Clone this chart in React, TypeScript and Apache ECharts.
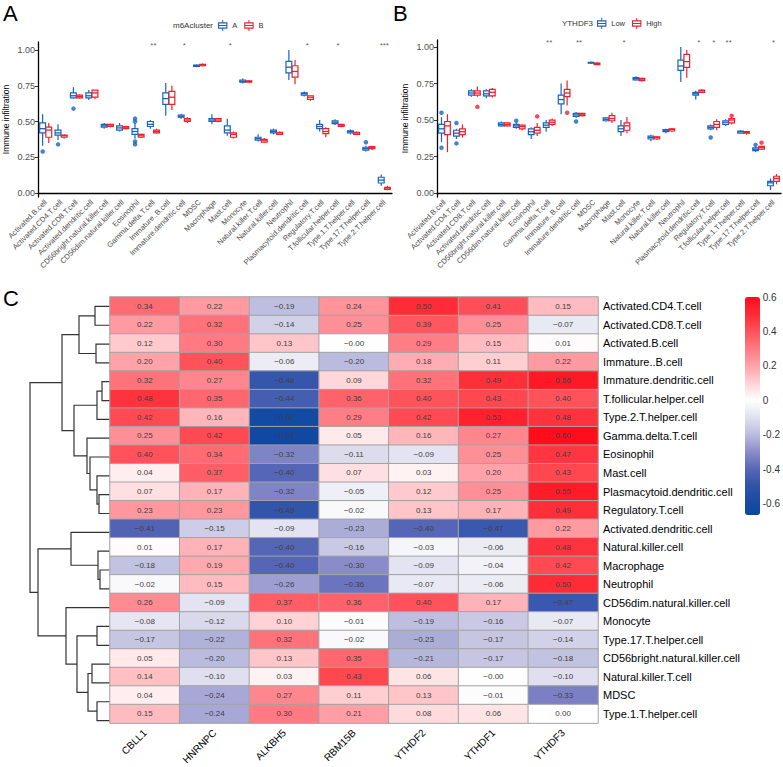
import React, { useEffect, useRef } from 'react';
import * as echarts from 'echarts';

// ---------- Panel A / B data ----------
const cellTypes = [
  'Activated.B.cell', 'Activated.CD4.T.cell', 'Activated.CD8.T.cell', 'Activated.dendritic.cell',
  'CD56bright.natural.killer.cell', 'CD56dim.natural.killer.cell', 'Eosinophil', 'Gamma.delta.T.cell',
  'Immature..B.cell', 'Immature.dendritic.cell', 'MDSC', 'Macrophage', 'Mast.cell', 'Monocyte',
  'Natural.killer.T.cell', 'Natural.killer.cell', 'Neutrophil', 'Plasmacytoid.dendritic.cell',
  'Regulatory.T.cell', 'T.follicular.helper.cell', 'Type.1.T.helper.cell', 'Type.17.T.helper.cell',
  'Type.2.T.helper.cell',
];

// [min, q1, median, q3, max]
const boxA_clusterA = [
  [0.33, 0.42, 0.45, 0.49, 0.55], [0.37, 0.405, 0.42, 0.44, 0.48], [0.66, 0.665, 0.68, 0.70, 0.74],
  [0.65, 0.665, 0.68, 0.70, 0.72], [0.45, 0.46, 0.47, 0.48, 0.49], [0.43, 0.44, 0.455, 0.47, 0.49],
  [0.38, 0.41, 0.43, 0.45, 0.49], [0.45, 0.465, 0.48, 0.50, 0.51], [0.54, 0.62, 0.66, 0.70, 0.77],
  [0.52, 0.53, 0.535, 0.545, 0.555], [0.88, 0.885, 0.89, 0.895, 0.90], [0.48, 0.50, 0.51, 0.52, 0.55],
  [0.40, 0.42, 0.44, 0.47, 0.52], [0.765, 0.775, 0.78, 0.79, 0.80], [0.36, 0.37, 0.38, 0.39, 0.41],
  [0.41, 0.42, 0.43, 0.44, 0.45], [0.79, 0.84, 0.88, 0.92, 1.0], [0.675, 0.685, 0.695, 0.70, 0.71],
  [0.43, 0.45, 0.465, 0.48, 0.51], [0.475, 0.485, 0.495, 0.505, 0.515], [0.41, 0.42, 0.43, 0.435, 0.445],
  [0.29, 0.30, 0.31, 0.32, 0.33], [0.05, 0.07, 0.09, 0.11, 0.13],
];
const boxA_clusterB = [
  [0.35, 0.39, 0.44, 0.46, 0.49], [0.38, 0.39, 0.40, 0.405, 0.41], [0.66, 0.665, 0.675, 0.685, 0.69],
  [0.655, 0.67, 0.70, 0.72, 0.72], [0.46, 0.465, 0.475, 0.48, 0.485], [0.445, 0.45, 0.46, 0.465, 0.47],
  [0.385, 0.39, 0.40, 0.41, 0.415], [0.415, 0.42, 0.43, 0.44, 0.45], [0.58, 0.62, 0.67, 0.71, 0.75],
  [0.49, 0.50, 0.51, 0.52, 0.53], [0.885, 0.89, 0.895, 0.90, 0.905], [0.495, 0.50, 0.51, 0.52, 0.525],
  [0.38, 0.39, 0.41, 0.42, 0.43], [0.77, 0.775, 0.78, 0.785, 0.79], [0.35, 0.355, 0.365, 0.375, 0.385],
  [0.41, 0.41, 0.42, 0.425, 0.43], [0.76, 0.81, 0.85, 0.89, 0.93], [0.645, 0.655, 0.67, 0.68, 0.685],
  [0.39, 0.415, 0.43, 0.45, 0.46], [0.46, 0.465, 0.47, 0.48, 0.485], [0.41, 0.41, 0.42, 0.425, 0.43],
  [0.30, 0.31, 0.32, 0.325, 0.33], [0.02, 0.025, 0.035, 0.04, 0.05],
];
const outA_clusterA = [[0, 0.29], [1, 0.34], [2, 0.59], [6, 0.52], [6, 0.50], [6, 0.36], [6, 0.34], [21, 0.355]];
const outA_clusterB: number[][] = [];
const starsA = ['', '', '', '', '', '', '', '**', '', '*', '', '', '*', '', '', '', '', '*', '', '*', '', '', '***'];

const boxB_low = [
  [0.35, 0.41, 0.44, 0.47, 0.52], [0.37, 0.39, 0.41, 0.43, 0.44], [0.66, 0.67, 0.685, 0.70, 0.71],
  [0.65, 0.665, 0.68, 0.70, 0.71], [0.455, 0.46, 0.47, 0.48, 0.49], [0.44, 0.45, 0.46, 0.47, 0.48],
  [0.37, 0.40, 0.42, 0.44, 0.45], [0.42, 0.45, 0.465, 0.48, 0.50], [0.54, 0.61, 0.64, 0.67, 0.75],
  [0.515, 0.525, 0.535, 0.545, 0.555], [0.885, 0.89, 0.893, 0.895, 0.90], [0.49, 0.495, 0.505, 0.515, 0.52],
  [0.39, 0.42, 0.44, 0.46, 0.50], [0.77, 0.775, 0.785, 0.79, 0.80], [0.355, 0.37, 0.38, 0.39, 0.40],
  [0.41, 0.42, 0.43, 0.435, 0.44], [0.76, 0.84, 0.87, 0.91, 1.0], [0.64, 0.67, 0.68, 0.69, 0.70],
  [0.43, 0.44, 0.45, 0.46, 0.47], [0.46, 0.47, 0.485, 0.495, 0.505], [0.41, 0.41, 0.42, 0.425, 0.43],
  [0.28, 0.29, 0.30, 0.31, 0.32], [0.02, 0.05, 0.07, 0.08, 0.10],
];
const boxB_high = [
  [0.28, 0.40, 0.46, 0.49, 0.54], [0.38, 0.40, 0.42, 0.44, 0.47], [0.66, 0.67, 0.685, 0.70, 0.73],
  [0.655, 0.665, 0.69, 0.71, 0.72], [0.455, 0.46, 0.47, 0.48, 0.485], [0.43, 0.44, 0.455, 0.465, 0.47],
  [0.39, 0.41, 0.43, 0.45, 0.48], [0.46, 0.47, 0.485, 0.50, 0.51], [0.60, 0.66, 0.685, 0.71, 0.77],
  [0.525, 0.53, 0.54, 0.545, 0.55], [0.88, 0.88, 0.887, 0.89, 0.895], [0.48, 0.495, 0.51, 0.53, 0.55],
  [0.41, 0.43, 0.46, 0.48, 0.52], [0.765, 0.77, 0.78, 0.785, 0.79], [0.365, 0.37, 0.38, 0.385, 0.39],
  [0.42, 0.425, 0.435, 0.44, 0.445], [0.79, 0.86, 0.90, 0.95, 0.98], [0.685, 0.69, 0.70, 0.705, 0.71],
  [0.43, 0.45, 0.47, 0.49, 0.505], [0.47, 0.48, 0.50, 0.51, 0.52], [0.40, 0.41, 0.415, 0.42, 0.425],
  [0.295, 0.30, 0.31, 0.32, 0.32], [0.06, 0.08, 0.10, 0.115, 0.13],
];
const outB_low = [[0, 0.55], [0, 0.31], [1, 0.48], [1, 0.34], [5, 0.495], [9, 0.49], [18, 0.38], [21, 0.33]];
const outB_high = [[2, 0.59], [6, 0.525], [8, 0.55], [19, 0.53], [21, 0.345]];
const starsB = ['', '', '', '', '', '', '', '**', '', '**', '', '', '*', '', '', '', '', '*', '*', '**', '', '', '*'];

const yTickValues = [0, 0.25, 0.5, 0.75, 1.0];

// ---------- Panel C data ----------
const heatCols = ['CBLL1', 'HNRNPC', 'ALKBH5', 'RBM15B', 'YTHDF2', 'YTHDF1', 'YTHDF3'];
const heatRows = [
  'Activated.CD4.T.cell', 'Activated.CD8.T.cell', 'Activated.B.cell', 'Immature..B.cell',
  'Immature.dendritic.cell', 'T.follicular.helper.cell', 'Type.2.T.helper.cell', 'Gamma.delta.T.cell',
  'Eosinophil', 'Mast.cell', 'Plasmacytoid.dendritic.cell', 'Regulatory.T.cell',
  'Activated.dendritic.cell', 'Natural.killer.cell', 'Macrophage', 'Neutrophil',
  'CD56dim.natural.killer.cell', 'Monocyte', 'Type.17.T.helper.cell', 'CD56bright.natural.killer.cell',
  'Natural.killer.T.cell', 'MDSC', 'Type.1.T.helper.cell',
];
const heatValues = [
  [0.34, 0.22, -0.19, 0.24, 0.50, 0.41, 0.15],
  [0.22, 0.32, -0.14, 0.25, 0.39, 0.25, -0.07],
  [0.12, 0.30, 0.13, -0.002, 0.29, 0.15, 0.01],
  [0.20, 0.40, -0.06, -0.20, 0.18, 0.11, 0.22],
  [0.32, 0.27, -0.48, 0.09, 0.32, 0.49, 0.56],
  [0.48, 0.35, -0.44, 0.36, 0.40, 0.43, 0.40],
  [0.42, 0.16, -0.62, 0.29, 0.42, 0.53, 0.48],
  [0.25, 0.42, -0.63, 0.05, 0.16, 0.27, 0.60],
  [0.40, 0.34, -0.32, -0.11, -0.09, 0.25, 0.47],
  [0.04, 0.37, -0.40, 0.07, 0.03, 0.20, 0.43],
  [0.07, 0.17, -0.32, -0.05, 0.12, 0.25, 0.55],
  [0.23, 0.23, -0.49, -0.02, 0.13, 0.17, 0.49],
  [-0.41, -0.15, -0.09, -0.23, -0.40, -0.47, 0.22],
  [0.01, 0.17, -0.40, -0.16, -0.03, -0.06, 0.48],
  [-0.18, 0.19, -0.40, -0.30, -0.09, -0.04, 0.42],
  [-0.02, 0.15, -0.26, -0.36, -0.07, -0.06, 0.50],
  [0.26, -0.09, 0.37, 0.36, 0.40, 0.17, -0.47],
  [-0.08, -0.12, 0.10, -0.01, -0.19, -0.16, -0.07],
  [-0.17, -0.22, 0.32, -0.02, -0.23, -0.17, -0.14],
  [0.05, -0.20, 0.13, 0.35, -0.21, -0.17, -0.18],
  [0.14, -0.10, 0.03, 0.43, 0.06, -0.002, -0.10],
  [0.04, -0.24, 0.27, 0.11, 0.13, -0.01, -0.33],
  [0.15, -0.24, 0.30, 0.21, 0.08, 0.06, 0.00],
];
// hclust-style merges: negative = leaf (row number), positive = earlier merge; [left, right, height]
const dendroMerges = [
  [-1, -2, 15], [-3, -4, 14], [1, 2, 31], [-5, -6, 8], [4, -7, 13],
  [-11, -12, 11], [-10, 6, 13], [-9, 7, 20], [-8, 8, 23], [5, 9, 36], [3, 10, 48],
  [-15, -16, 10], [-14, 12, 12], [-13, 13, 39],
  [-18, -19, 13], [-20, -21, 18], [-22, -23, 13], [16, 17, 22], [15, 18, 33], [-17, 19, 44],
  [14, 20, 72], [11, 21, 80],
];
const colorbarTicks = [0.6, 0.4, 0.2, 0, -0.2, -0.4, -0.6];
const colorMin = -0.664;
const colorMax = 0.6;

// ---------- styling ----------
const BLUE = '#1565C0';
const RED = '#EE1F2D';
const FONT = 'Liberation Sans, Arial, sans-serif';
const boxIcon =
  'path://M2,4H14V12H2Z M3.4,5.4V7.3H12.6V5.4Z M3.4,8.7V10.6H12.6V8.7Z M7.4,1H8.6V4H7.4Z M7.4,12H8.6V15H7.4Z';

const colorAnchors: [number, string][] = [
  [-0.664, '#0a47a0'], [-0.5, '#2e52a8'], [-0.4, '#5665b6'], [-0.3, '#8a8cc9'], [-0.2, '#babbde'],
  [-0.1, '#e0e0ef'], [0, '#ffffff'], [0.1, '#ffd3d6'], [0.2, '#ffa3a9'], [0.3, '#ff7a82'],
  [0.4, '#ff525b'], [0.5, '#ff2b36'], [0.6, '#ff0d1c'],
];
function hexToRgb(h: string) {
  return [parseInt(h.slice(1, 3), 16), parseInt(h.slice(3, 5), 16), parseInt(h.slice(5, 7), 16)];
}
function colorAt(v: number) {
  for (let i = 0; i < colorAnchors.length - 1; i++) {
    const [v0, c0] = colorAnchors[i];
    const [v1, c1] = colorAnchors[i + 1];
    if (v <= v1 || i === colorAnchors.length - 2) {
      const t = Math.max(0, Math.min(1, (v - v0) / (v1 - v0)));
      const a = hexToRgb(c0), b = hexToRgb(c1);
      const r = a.map((x, k) => Math.round(x + (b[k] - x) * t));
      return `rgb(${r[0]},${r[1]},${r[2]})`;
    }
  }
  return '#fff';
}
const rampColors: string[] = [];
for (let i = 0; i <= 80; i++) rampColors.push(colorAt(colorMin + ((colorMax - colorMin) * i) / 80));

function boxSeries(name: string, stats: number[][], axis: number, color: string, side: number) {
  return {
    type: 'custom',
    name,
    xAxisIndex: axis,
    yAxisIndex: axis,
    itemStyle: { color },
    encode: { x: 0, y: [1, 2, 3, 4, 5] },
    silent: true,
    data: stats.map((s, i) => [i, ...s]),
    renderItem: (_params: any, api: any) => {
      const i = api.value(0);
      const band = api.size([1, 0])[0];
      const off = side * band * 0.2;
      const hw = band * 0.19;
      const pMin = api.coord([i, api.value(1)]);
      const pQ1 = api.coord([i, api.value(2)]);
      const pMed = api.coord([i, api.value(3)]);
      const pQ3 = api.coord([i, api.value(4)]);
      const pMax = api.coord([i, api.value(5)]);
      const cx = pMin[0] + off;
      const ls = { stroke: color, lineWidth: 1.2 };
      return {
        type: 'group',
        children: [
          { type: 'line', shape: { x1: cx, y1: pMax[1], x2: cx, y2: pQ3[1] }, style: ls },
          { type: 'line', shape: { x1: cx, y1: pQ1[1], x2: cx, y2: pMin[1] }, style: ls },
          {
            type: 'rect',
            shape: { x: cx - hw, y: pQ3[1], width: 2 * hw, height: Math.max(0.8, pQ1[1] - pQ3[1]) },
            style: { fill: '#ffffff', stroke: color, lineWidth: 1.2 },
          },
          { type: 'line', shape: { x1: cx - hw, y1: pMed[1], x2: cx + hw, y2: pMed[1] }, style: { stroke: color, lineWidth: 1.3 } },
        ],
      };
    },
  };
}
function outlierSeries(name: string, pts: number[][], axis: number, color: string, side: number) {
  return {
    type: 'scatter',
    name,
    xAxisIndex: axis,
    yAxisIndex: axis,
    symbolSize: 4.5,
    symbolOffset: [side * 3, 0],
    itemStyle: { color },
    silent: true,
    data: pts,
  };
}
function starSeries(stars: string[], axis: number, yv: number) {
  return {
    type: 'scatter',
    xAxisIndex: axis,
    yAxisIndex: axis,
    symbolSize: 0,
    silent: true,
    data: stars.map((s, i) => [i, yv, s]).filter((d) => d[2] !== ''),
    label: {
      show: true,
      position: 'inside',
      formatter: (p: any) => p.value[2],
      fontSize: 8,
      color: '#333',
      fontFamily: FONT,
    },
  };
}
function boxAxes(grid: number, ymin: number, ymax: number) {
  return {
    x: {
      type: 'category',
      gridIndex: grid,
      data: cellTypes,
      axisLine: { lineStyle: { color: '#000', width: 1.3 } },
      axisTick: { alignWithLabel: true, length: 3, lineStyle: { color: '#333' } },
      axisLabel: { rotate: 45, interval: 0, fontSize: 7.5, color: '#4d4d4d', margin: 4, fontFamily: FONT },
    },
    y: {
      type: 'value',
      gridIndex: grid,
      min: ymin,
      max: ymax,
      name: 'Immune infiltration',
      nameLocation: 'middle',
      nameGap: 28,
      nameTextStyle: { fontSize: 8.5, color: '#000', fontFamily: FONT },
      axisLine: { show: true, lineStyle: { color: '#000', width: 1.3 } },
      axisTick: { show: true, length: 3, customValues: yTickValues, lineStyle: { color: '#333' } },
      axisLabel: {
        customValues: yTickValues,
        formatter: (v: number) => v.toFixed(2),
        fontSize: 9,
        color: '#4d4d4d',
        margin: 3,
        fontFamily: FONT,
      },
      splitLine: { show: false },
    },
  };
}

function dendroData() {
  const pos: { y: number; h: number }[] = [];
  const get = (id: number) => (id < 0 ? { y: -id, h: 0 } : pos[id - 1]);
  const out: any[] = [];
  dendroMerges.forEach(([l, r, h]) => {
    const a = get(l), b = get(r);
    out.push({ coords: [[a.h, a.y], [h, a.y], [h, b.y], [b.h, b.y]] });
    pos.push({ y: (a.y + b.y) / 2, h });
  });
  return out;
}

const fmtCell = (v: number) => {
  const s = v.toFixed(2);
  return v < 0 ? '\u2212' + s.replace('-', '') : s;
};

export default function App() {
  const ref = useRef<HTMLDivElement>(null);
  useEffect(() => {
    document.body.style.margin = '0';
    if (!ref.current) return;
    const chart = echarts.init(ref.current, null, { renderer: 'svg' });
    const axA = boxAxes(0, -0.028, 1.056);
    const axB = boxAxes(1, -0.027, 1.048);
    const heatData: number[][] = [];
    heatValues.forEach((row, r) => row.forEach((v, c) => heatData.push([c, r, v])));

    const series: any[] = [
      boxSeries('A', boxA_clusterA, 0, BLUE, -1),
      boxSeries('B', boxA_clusterB, 0, RED, 1),
      outlierSeries('A', outA_clusterA, 0, BLUE, -1),
      outlierSeries('B', outA_clusterB, 0, RED, 1),
      starSeries(starsA, 0, 1.035),
      boxSeries('Low', boxB_low, 1, BLUE, -1),
      boxSeries('High', boxB_high, 1, RED, 1),
      outlierSeries('Low', outB_low, 1, BLUE, -1),
      outlierSeries('High', outB_high, 1, RED, 1),
      starSeries(starsB, 1, 1.03),
      {
        type: 'lines',
        coordinateSystem: 'cartesian2d',
        xAxisIndex: 2,
        yAxisIndex: 2,
        polyline: true,
        silent: true,
        lineStyle: { color: '#333', width: 1.2, opacity: 1 },
        data: dendroData(),
      },
    ];
    const heatIndex = series.length;
    series.push({
      type: 'heatmap',
      xAxisIndex: 3,
      yAxisIndex: 3,
      data: heatData,
      silent: true,
      itemStyle: { borderColor: '#a3a3a3', borderWidth: 1 },
      label: {
        show: true,
        formatter: (p: any) => fmtCell(p.value[2]),
        fontSize: 8,
        color: '#404040',
        fontFamily: FONT,
      },
      emphasis: { disabled: true },
    });

    const legendCommon = {
      orient: 'horizontal',
      itemWidth: 13,
      itemHeight: 11,
      itemGap: 7,
      icon: boxIcon,
      selectedMode: false,
      padding: 0,
      textStyle: { fontSize: 7.5, color: '#333', fontFamily: FONT, padding: [0, 0, 0, -2] },
    };

    chart.setOption({
      animation: false,
      backgroundColor: '#ffffff',
      textStyle: { fontFamily: FONT },
      grid: [
        { left: 38, top: 42, width: 354, height: 155 },
        { left: 437, top: 40, width: 344, height: 157 },
        { left: 30, top: 297, width: 80, height: 433 },
        { left: 110, top: 297, width: 488, height: 433 },
        { left: 745, top: 297, width: 15, height: 218 },
      ],
      xAxis: [
        axA.x,
        axB.x,
        { type: 'value', gridIndex: 2, min: 0, max: 80, inverse: true, show: false },
        {
          type: 'category',
          gridIndex: 3,
          data: heatCols,
          position: 'bottom',
          axisLine: { show: false },
          axisTick: { show: false },
          axisLabel: { rotate: 45, interval: 0, fontSize: 10, color: '#000', margin: 8, fontFamily: FONT },
        },
        { type: 'value', gridIndex: 4, show: false, min: 0, max: 1 },
      ],
      yAxis: [
        axA.y,
        axB.y,
        { type: 'value', gridIndex: 2, min: 0.5, max: 23.5, inverse: true, show: false },
        {
          type: 'category',
          gridIndex: 3,
          data: heatRows,
          inverse: true,
          position: 'right',
          axisLine: { show: false },
          axisTick: { show: false },
          axisLabel: { interval: 0, fontSize: 11, color: '#000', margin: 5, fontFamily: FONT },
        },
        {
          type: 'value',
          gridIndex: 4,
          min: colorMin,
          max: colorMax,
          position: 'right',
          axisLine: { show: false },
          axisTick: { show: false },
          splitLine: { show: false },
          axisLabel: {
            customValues: colorbarTicks,
            formatter: (v: number) => String(Math.round(v * 10) / 10),
            fontSize: 10,
            color: '#333',
            margin: 5,
            fontFamily: FONT,
          },
        },
      ],
      visualMap: {
        type: 'continuous',
        seriesIndex: heatIndex,
        min: colorMin,
        max: colorMax,
        calculable: false,
        hoverLink: false,
        left: 745,
        top: 297,
        padding: 0,
        itemWidth: 15,
        itemHeight: 218,
        text: ['', ''],
        inRange: { color: rampColors },
      },
      legend: [
        { ...legendCommon, data: ['A', 'B'], left: 218, top: 20 },
        { ...legendCommon, data: ['Low', 'High'], left: 597, top: 18 },
      ],
      graphic: [
        { type: 'text', left: 3, top: 2, style: { text: 'A', fontSize: 22, fill: '#000', fontFamily: FONT } },
        { type: 'text', left: 393, top: 2, style: { text: 'B', fontSize: 22, fill: '#000', fontFamily: FONT } },
        { type: 'text', left: 3, top: 287, style: { text: 'C', fontSize: 22, fill: '#000', fontFamily: FONT } },
        {
          type: 'text',
          x: 213,
          y: 25,
          style: { text: 'm6Acluster', fontSize: 8, fill: '#333', fontFamily: FONT, align: 'right', verticalAlign: 'middle' },
        },
        {
          type: 'text',
          x: 593,
          y: 23,
          style: { text: 'YTHDF3', fontSize: 8, fill: '#333', fontFamily: FONT, align: 'right', verticalAlign: 'middle' },
        },
      ],
      series,
    });
    return () => chart.dispose();
  }, []);
  return <div ref={ref} style={{ width: 783, height: 767 }} />;
}
